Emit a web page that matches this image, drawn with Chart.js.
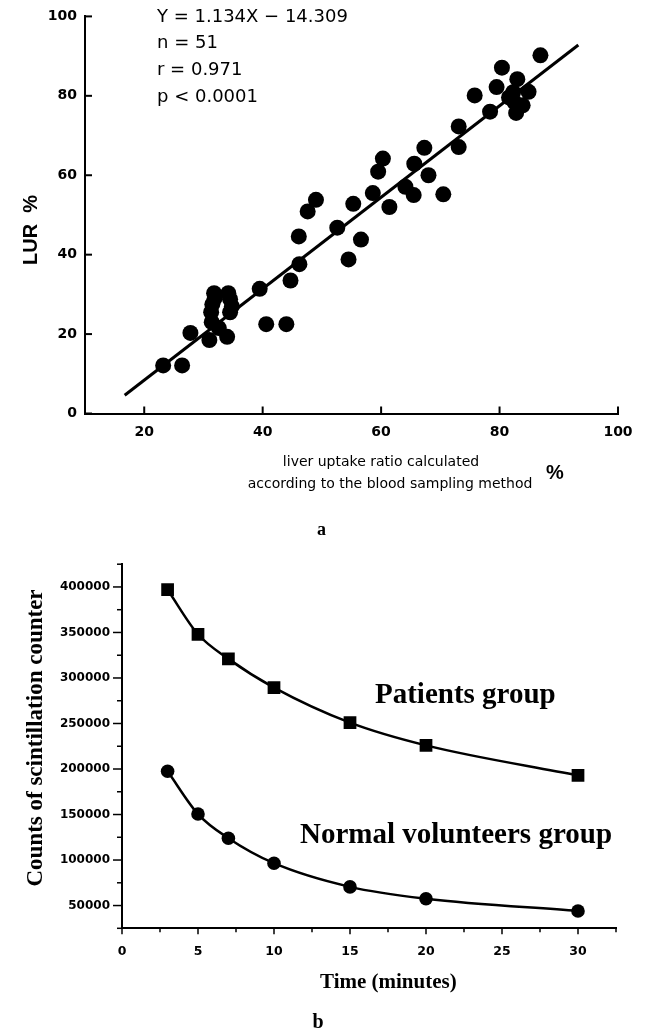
<!DOCTYPE html>
<html><head><meta charset="utf-8">
<script src="https://cdn.jsdelivr.net/npm/chart.js@4.4.1/dist/chart.umd.min.js"></script>
<style>
html,body{margin:0;padding:0;background:#fff;}
#wrap{position:relative;width:645px;height:1031px;overflow:hidden;background:#fff;}
canvas{position:absolute;left:0;}
#ca{top:0}
#cb{top:545px}
</style></head><body>
<div id="wrap"><canvas id="ca" width="645" height="545"></canvas><canvas id="cb" width="645" height="486"></canvas></div>
<script>
// ---------- Chart a: LUR vs blood sampling method ----------
const lurX = [23.2,26.4,27.8,31.0,31.4,31.3,31.5,31.8,31.9,32.6,34.0,34.5,34.8,34.2,34.5,39.5,40.6,44.0,44.7,46.2,46.1,47.6,49.0,52.6,54.5,55.3,56.6,58.6,59.5,60.3,61.4,64.1,65.5,65.6,67.3,68.0,70.5,73.1,73.1,75.8,78.4,79.5,80.4,83.0,82.3,84.9,82.5,82.8,81.6,86.9,83.9];
const lurY = [12.1,12.1,20.3,18.5,23.0,25.5,27.5,30.3,29.0,21.5,19.3,25.5,27.0,30.3,28.8,31.4,22.5,22.5,33.5,37.6,44.6,50.9,53.8,46.8,38.8,52.8,43.8,55.5,60.9,64.2,52.0,57.1,55.0,62.9,66.9,60.0,55.2,67.1,72.3,80.1,76.0,82.2,87.1,84.2,80.9,81.0,78.4,75.7,79.6,90.2,77.6];
const fitX = [16.7, 93.3];
const fitY = [4.6, 92.8];
const aXTicks = [20,40,60,80,100];
const aYTicks = [0,20,40,60,80,100];
const statLines = ['Y = 1.134X \u2212 14.309','n = 51','r = 0.971','p < 0.0001'];
const aXTitle = ['liver uptake ratio calculated','according to the blood sampling method'];

// ---------- Chart b: scintillation counts over time ----------
const times = [3,5,7,10,15,20,30];
const patients = [397000,348000,321000,289500,251000,226000,193000];
const normals = [197500,150500,124000,96500,70500,57500,44000];
const bYLabels = [50000,100000,150000,200000,250000,300000,350000,400000];
const bXLabels = [0,5,10,15,20,25,30];

const pts = (xs, ys) => xs.map((v,i)=>({x:v,y:ys[i]}));

const plugA = {
  id:'plugA',
  afterDraw(chart){
    const {ctx, scales:{x,y}, chartArea:a} = chart;
    ctx.save();
    ctx.strokeStyle='#000'; ctx.lineWidth=2;
    aYTicks.forEach(v=>{const py=y.getPixelForValue(v); ctx.beginPath(); ctx.moveTo(a.left,py); ctx.lineTo(a.left+7,py); ctx.stroke();});
    aXTicks.forEach(v=>{const px=x.getPixelForValue(v); ctx.beginPath(); ctx.moveTo(px,a.bottom); ctx.lineTo(px,a.bottom-7); ctx.stroke();});
    ctx.fillStyle='#000';
    ctx.font='18px "DejaVu Sans"'; ctx.textAlign='left'; ctx.textBaseline='alphabetic';
    statLines.forEach((s,i)=>ctx.fillText(s,157,21.5+i*26.7));
    ctx.font='14px "DejaVu Sans"'; ctx.textAlign='center';
    ctx.fillText(aXTitle[0],381,465.5);
    ctx.fillText(aXTitle[1],390,487.5);
    ctx.font='bold 20px "Liberation Sans"'; ctx.textAlign='left';
    ctx.fillText('%',546,479);
    ctx.font='bold 18px "Liberation Serif"'; ctx.textAlign='center';
    ctx.fillText('a',321.5,535);
    ctx.save();
    ctx.translate(31,230); ctx.rotate(-Math.PI/2);
    ctx.font='bold 20px "Liberation Sans"'; ctx.textAlign='center'; ctx.textBaseline='middle';
    ctx.fillText('LUR  %',0,0);
    ctx.restore();
    ctx.restore();
  }
};

const plugB = {
  id:'plugB',
  afterDraw(chart){
    const {ctx, scales:{x,y}, chartArea:a} = chart;
    ctx.save();
    ctx.strokeStyle='#000'; ctx.lineWidth=1.5;
    y.ticks.forEach(t=>{const py=y.getPixelForValue(t.value); const major=t.value%50000===0; ctx.beginPath(); ctx.moveTo(a.left,py); ctx.lineTo(a.left-(major?9:5),py); ctx.stroke();});
    x.ticks.forEach(t=>{const px=x.getPixelForValue(t.value); const major=Math.abs(t.value%5)<1e-6; ctx.beginPath(); ctx.moveTo(px,a.bottom); ctx.lineTo(px,a.bottom+(major?6:4)); ctx.stroke();});
    ctx.fillStyle='#000'; ctx.textBaseline='alphabetic';
    ctx.font='bold 29px "Liberation Serif"'; ctx.textAlign='left';
    ctx.fillText('Patients group',375,158);
    ctx.fillText('Normal volunteers group',300,298);
    ctx.font='bold 21px "Liberation Serif"';
    ctx.fillText('Time (minutes)',320,443);
    ctx.font='bold 20px "Liberation Serif"'; ctx.textAlign='center';
    ctx.fillText('b',318,483);
    ctx.save();
    ctx.translate(36,193); ctx.rotate(-Math.PI/2);
    ctx.font='bold 23px "Liberation Serif"'; ctx.textAlign='center'; ctx.textBaseline='middle';
    ctx.fillText('Counts of scintillation counter',0,0);
    ctx.restore();
    ctx.restore();
  }
};

Chart.defaults.color='#000';

new Chart(document.getElementById('ca'), {
  type:'scatter',
  data:{datasets:[
    {data:pts(lurX,lurY), pointRadius:8, pointHoverRadius:8, backgroundColor:'#000', borderWidth:0, pointStyle:'circle'},
    {type:'line', data:pts(fitX,fitY), showLine:true, borderColor:'#000', borderWidth:3, pointRadius:0, fill:false}
  ]},
  options:{
    responsive:false, animation:false,
    layout:{padding:{top:13.5,right:27,left:0,bottom:0}},
    plugins:{legend:{display:false}, tooltip:{enabled:false}},
    scales:{
      x:{type:'linear', min:10, max:100,
        afterBuildTicks:s=>{s.ticks=aXTicks.map(v=>({value:v}));},
        afterFit:s=>{s.height=131.5;},
        grid:{display:false, drawTicks:false, tickLength:0},
        border:{display:true,color:'#000',width:2},
        ticks:{padding:10, font:{family:'DejaVu Sans',size:14,weight:'bold'}, color:'#000', maxRotation:0}
      },
      y:{type:'linear', min:0, max:100,
        afterBuildTicks:s=>{s.ticks=aYTicks.map(v=>({value:v}));},
        afterFit:s=>{s.width=85;},
        grid:{display:false, drawTicks:false, tickLength:0},
        border:{display:true,color:'#000',width:2},
        ticks:{padding:8, font:{family:'DejaVu Sans',size:14,weight:'bold'}, color:'#000'}
      }
    }
  },
  plugins:[plugA]
});

new Chart(document.getElementById('cb'), {
  type:'line',
  data:{datasets:[
    {data:pts(times,patients), borderColor:'#000', borderWidth:2.5, backgroundColor:'#000', pointStyle:'rect', pointRadius:9, pointHoverRadius:9, pointBorderWidth:0, cubicInterpolationMode:'monotone', fill:false},
    {data:pts(times,normals), borderColor:'#000', borderWidth:2.5, backgroundColor:'#000', pointStyle:'circle', pointRadius:6.8, pointHoverRadius:6.8, pointBorderWidth:0, cubicInterpolationMode:'monotone', fill:false}
  ]},
  options:{
    responsive:false, animation:false,
    layout:{padding:{top:13,right:29,left:0,bottom:0}},
    plugins:{legend:{display:false}, tooltip:{enabled:false}},
    scales:{
      x:{type:'linear', min:0, max:32.5,
        ticks:{stepSize:2.5, padding:16, autoSkip:false, maxRotation:0,
          callback:v=>bXLabels.includes(v)?String(v):'',
          font:{family:'DejaVu Sans',size:12.5,weight:'bold'}, color:'#000'},
        afterFit:s=>{s.height=102.7;},
        grid:{display:false, drawTicks:false, tickLength:0},
        border:{display:true,color:'#000',width:2}
      },
      y:{type:'linear', min:25000, max:425000,
        ticks:{stepSize:25000, padding:12, autoSkip:false,
          callback:v=>bYLabels.includes(v)?String(v):'',
          font:{family:'DejaVu Sans',size:12,weight:'bold'}, color:'#000'},
        afterFit:s=>{s.width=122;},
        grid:{display:false, drawTicks:false, tickLength:0},
        border:{display:true,color:'#000',width:2}
      }
    }
  },
  plugins:[plugB]
});
</script>
</body></html>
